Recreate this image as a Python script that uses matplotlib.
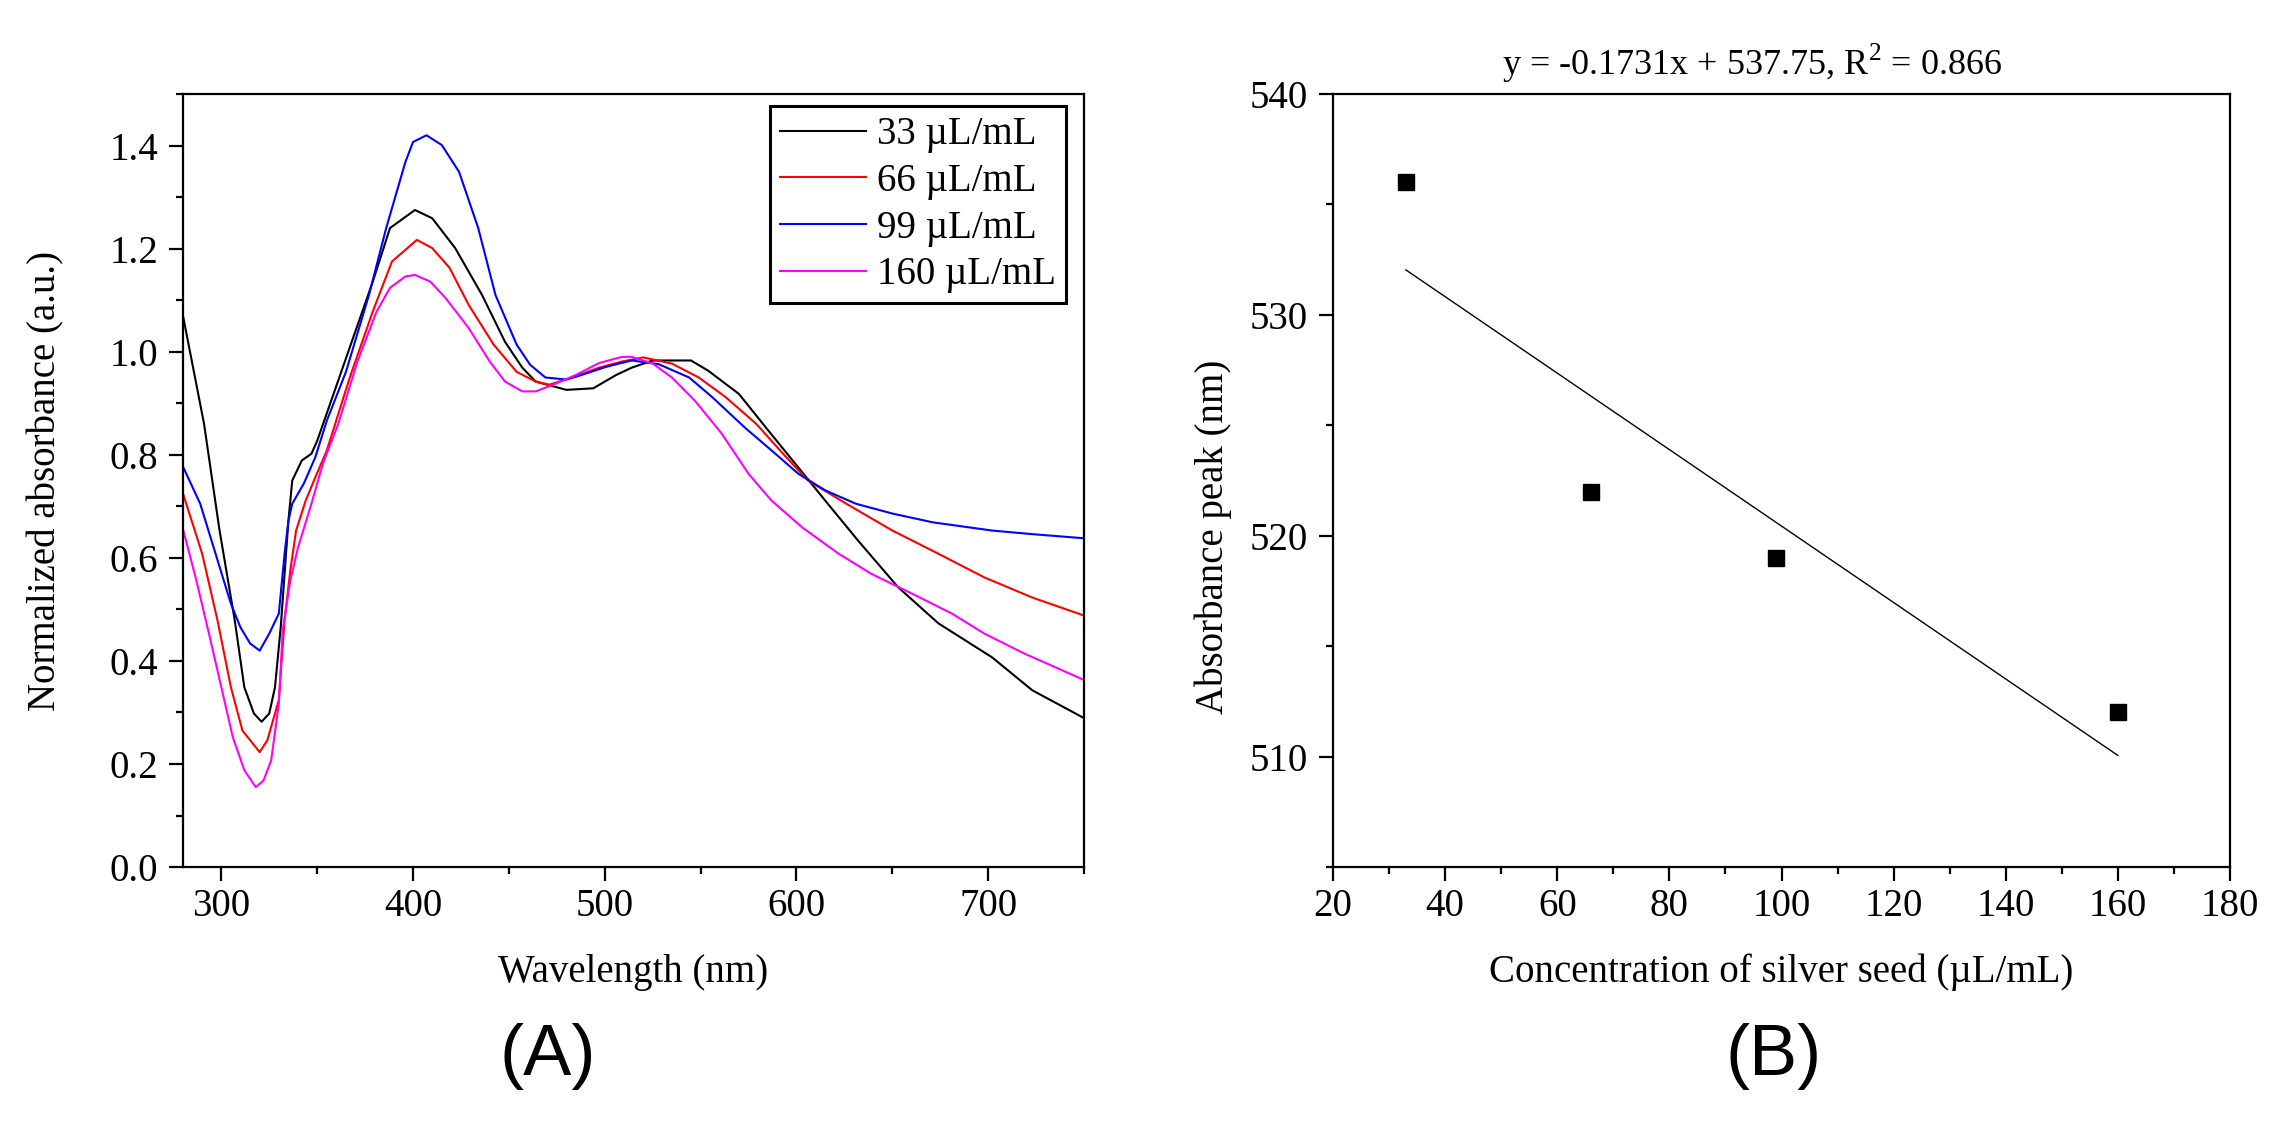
import matplotlib
matplotlib.use("Agg")
import matplotlib.pyplot as plt
from matplotlib.ticker import MultipleLocator

plt.rcParams['font.family'] = ['Liberation Serif', 'DejaVu Serif']
plt.rcParams['mathtext.fontset'] = 'custom'
plt.rcParams['mathtext.rm'] = 'Liberation Serif'

# ---- panel A: normalized UV-vis spectra ----
wl_33 = [280, 291, 299, 307, 312, 317, 321, 325, 328, 331, 335, 337, 342, 347, 350,
         356, 368, 379, 388, 401, 410, 422, 436, 448, 457, 464, 480, 494, 506, 514,
         525, 545, 554, 570, 584, 598, 615, 632, 653, 674, 702, 723, 750]
abs_33 = [1.07, 0.86, 0.655, 0.479, 0.349, 0.298, 0.282, 0.298, 0.349, 0.466, 0.672, 0.75, 0.789, 0.802, 0.827,
          0.891, 1.019, 1.136, 1.24, 1.275, 1.259, 1.201, 1.11, 1.019, 0.969, 0.942, 0.926, 0.929, 0.955, 0.969,
          0.983, 0.983, 0.963, 0.918, 0.853, 0.789, 0.711, 0.634, 0.543, 0.473, 0.407, 0.343, 0.289]

wl_66 = [280, 290, 298, 305, 311, 320, 324, 330, 333, 336, 339, 344, 349, 355,
         367, 379, 389, 402, 410, 419, 429, 442, 454, 464, 471, 483, 497, 509,
         520, 535, 549, 563, 579, 593, 606, 626, 650, 674, 698, 723, 750]
abs_66 = [0.725, 0.608, 0.479, 0.349, 0.265, 0.223, 0.246, 0.324, 0.479, 0.576, 0.653, 0.711, 0.756, 0.808,
          0.95, 1.078, 1.175, 1.217, 1.201, 1.163, 1.091, 1.014, 0.961, 0.942, 0.936, 0.95, 0.969, 0.981,
          0.989, 0.977, 0.95, 0.912, 0.86, 0.802, 0.75, 0.705, 0.653, 0.608, 0.562, 0.523, 0.488]

wl_99 = [280, 289, 297, 305, 310, 315, 320, 325, 330, 333, 335, 337, 343, 349, 355,
         365, 377, 386, 396, 400, 407, 415, 424, 434, 443, 454, 461, 469, 480, 488, 501,
         514, 528, 544, 556, 573, 589, 601, 615, 631, 650, 671, 702, 723, 750]
abs_99 = [0.777, 0.705, 0.608, 0.511, 0.465, 0.434, 0.42, 0.453, 0.492, 0.608, 0.672, 0.705, 0.744, 0.795, 0.866,
          0.961, 1.11, 1.24, 1.368, 1.407, 1.42, 1.401, 1.349, 1.24, 1.11, 1.014, 0.975, 0.95, 0.946, 0.955, 0.971,
          0.983, 0.976, 0.95, 0.912, 0.853, 0.802, 0.763, 0.731, 0.705, 0.686, 0.669, 0.653, 0.646, 0.638]

wl_160 = [280, 287, 294, 300, 306, 312, 318, 322, 326, 330, 332, 336, 340, 347, 353, 361,
          371, 381, 388, 396, 401, 409, 417, 429, 440, 448, 457, 464, 473, 485, 497, 509,
          514, 525, 535, 547, 561, 575, 587, 603, 622, 639, 660, 681, 698, 719, 750]
abs_160 = [0.656, 0.556, 0.446, 0.349, 0.252, 0.188, 0.155, 0.168, 0.207, 0.317, 0.459, 0.556, 0.62, 0.705, 0.783, 0.86,
           0.981, 1.078, 1.124, 1.146, 1.149, 1.136, 1.104, 1.046, 0.981, 0.942, 0.923, 0.923, 0.936, 0.955, 0.978, 0.99,
           0.99, 0.977, 0.95, 0.905, 0.841, 0.763, 0.711, 0.659, 0.608, 0.569, 0.531, 0.492, 0.453, 0.414, 0.363]

series_labels = ['33 \u00b5L/mL', '66 \u00b5L/mL', '99 \u00b5L/mL', '160 \u00b5L/mL']
series_colors = ['black', 'red', 'blue', 'magenta']

# ---- panel B: absorbance peak vs seed concentration ----
seed_conc = [33, 66, 99, 160]
peak_nm = [536, 522, 519, 512]
fit_slope = -0.1731
fit_intercept = 537.75
fit_r2 = 0.866

FS = 28

fig = plt.figure(figsize=(22.9, 11.29), dpi=100)
axA = fig.add_axes([0.0799, 0.232, 0.3935, 0.6847])
axB = fig.add_axes([0.5821, 0.232, 0.3917, 0.6847])


def style_axes(ax):
    for sp in ax.spines.values():
        sp.set_linewidth(1.6)
    ax.tick_params(which='both', direction='out', top=False, right=False,
                   width=1.6, labelsize=FS)
    ax.tick_params(which='major', length=10)
    ax.tick_params(which='minor', length=5)
    ax.tick_params(axis='y', pad=8)
    ax.tick_params(axis='x', pad=5)


# panel A
spectra = [(wl_33, abs_33), (wl_66, abs_66), (wl_99, abs_99), (wl_160, abs_160)]
for (wl, ab), lab, col in zip(spectra, series_labels, series_colors):
    axA.plot(wl, ab, color=col, lw=1.5, label=lab)

axA.set_xlim(280, 750)
axA.set_ylim(0, 1.5)
axA.xaxis.set_major_locator(MultipleLocator(100))
axA.xaxis.set_minor_locator(MultipleLocator(50))
axA.yaxis.set_major_locator(MultipleLocator(0.2))
axA.yaxis.set_minor_locator(MultipleLocator(0.1))
axA.yaxis.set_major_formatter(plt.FuncFormatter(lambda v, p: '%.1f' % v))
style_axes(axA)

axA.set_xlabel('Wavelength (nm)', fontsize=FS, va='center')
axA.xaxis.set_label_coords(0.5, -0.136)
axA.set_ylabel('Normalized absorbance (a.u.)', fontsize=FS, va='center')
axA.yaxis.set_label_coords(-0.152, 0.5)

leg = axA.legend(loc='upper right', bbox_to_anchor=(0.98, 0.984), borderaxespad=0,
                 fontsize=FS, frameon=True, fancybox=False, edgecolor='black',
                 framealpha=1, handlelength=2.2, handletextpad=0.3,
                 labelspacing=0.25, borderpad=0.25)
leg.get_frame().set_linewidth(2.2)

# panel B
axB.plot(seed_conc, peak_nm, 's', color='black', ms=11, zorder=3)
fit_x = [min(seed_conc), max(seed_conc)]
fit_y = [fit_slope * x + fit_intercept for x in fit_x]
axB.plot(fit_x, fit_y, color='black', lw=1.0)

axB.set_xlim(20, 180)
axB.set_ylim(505, 540)
axB.xaxis.set_major_locator(MultipleLocator(20))
axB.xaxis.set_minor_locator(MultipleLocator(10))
axB.yaxis.set_major_locator(MultipleLocator(10))
axB.yaxis.set_minor_locator(MultipleLocator(5))
style_axes(axB)

axB.set_xlabel('Concentration of silver seed (\u00b5L/mL)', fontsize=FS, va='center')
axB.xaxis.set_label_coords(0.5, -0.136)
axB.set_ylabel('Absorbance peak (nm)', fontsize=FS, va='center')
axB.yaxis.set_label_coords(-0.134, 0.427)

axB.set_title('y = %.4fx + %.2f, R$^2$ = %.3f' % (fit_slope, fit_intercept, fit_r2),
              fontsize=26, x=0.467, pad=14)

# panel letters
fig.text(548 / 2290, 1 - 1057 / 1129, '(A)', fontsize=52, ha='center', va='center',
         family=['Liberation Sans', 'DejaVu Sans'])
fig.text(1774 / 2290, 1 - 1057 / 1129, '(B)', fontsize=52, ha='center', va='center',
         family=['Liberation Sans', 'DejaVu Sans'])

fig.savefig('out.png', dpi=100)
